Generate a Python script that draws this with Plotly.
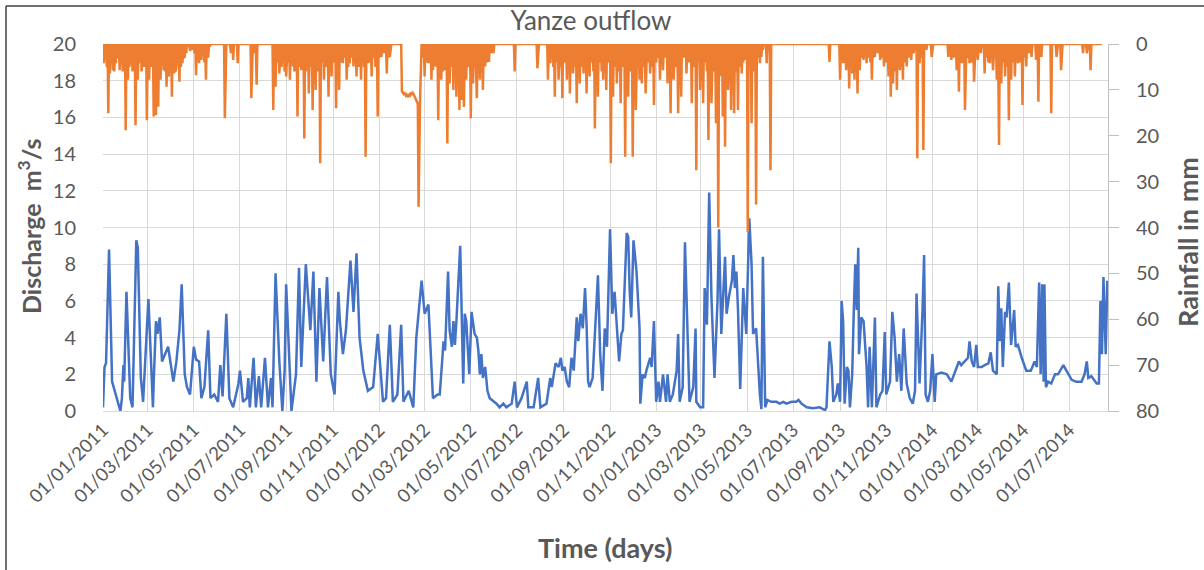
import pandas as pd
import plotly.graph_objects as go

start = pd.Timestamp("2011-01-01")

# Discharge (m3/s): day offset from 01/01/2011 and value
discharge_day = [0,2,4,8,12,17,23,25,27,28,31,36,39,44,46,50,53,60,66,67,70,72,75,78,82,86,89,93,97,101,104,108,111,115,120,123,127,130,134,139,142,147,152,155,158,163,167,172,179,181,185,190,192,194,199,202,206,209,214,218,222,224,228,233,237,240,242,249,255,259,262,268,274,278,282,286,291,296,301,306,311,313,317,321,327,331,335,339,344,350,357,363,370,374,379,383,389,394,397,404,410,414,421,425,430,436,442,
                 445,450,452,456,458,461,463,465,467,472,475,476,478,480,484,487,491,494,496,498,500,502,505,508,511,520,524,529,533,540,544,547,553,560,562,569,575,578,586,591,593,598,602,605,607,610,613,616,619,622,626,628,631,634,637,639,641,643,647,650,654,657,660,663,666,670,673,676,679,682,685,687,692,694,696,698,701,705,709,710,713,716,718,723,725,728,731,734,736,740,744,746,749,753,758,760,762,766,769,772,775,780,783,784,789,793,795,798,801,804,808,812,814,817,822,824,827,831,833,835,837,839,842,846,850,854,857,859,863,868,
                 870,872,875,878,883,890,894,899,903,910,916,919,923,930,938,947,954,956,960,963,965,969,971,974,976,978,980,983,985,987,990,992,994,996,998,999,1002,1005,1009,1011,1013,1016,1020,1022,1027,1030,1033,1035,1040,1043,1046,1049,1052,1055,1058,1062,1066,1070,1073,1075,1077,1079,1083,1085,1087,1090,1093,1096,1099,1101,1108,1115,1121,1128,1131,1134,1139,1143,1145,1148,1151,1154,1156,1161,1165,1170,1173,1176,1181,1183,1185,1187,1189,1192,1194,1197,1200,1204,1206,1209,1214,1220,1226,1231,1234,1237,1239,1241,1243,1244,1246,1249,1253,1258,1262,1269,1273,1280,1286,1293,1297,1300,1302,1306,1313,1316,1318,1320,1322,1325,1327]
discharge_m3s = [0.2,2.4,2.6,8.8,1.6,0.9,0.0,0.7,2.5,1.6,6.5,0.7,0.2,9.3,8.9,1.8,0.5,6.1,0.2,1.6,4.9,4.2,5.1,2.7,3.1,3.5,2.7,1.6,2.7,4.4,6.9,2.0,1.3,0.9,3.5,2.8,2.7,0.7,1.3,4.4,0.7,0.9,0.5,2.5,0.8,5.3,0.7,0.2,1.5,2.2,0.5,0.7,1.8,0.2,2.9,0.2,1.9,0.2,2.9,0.2,1.8,0.2,7.5,2.7,0.0,2.2,6.9,0.0,2.0,7.8,2.4,8.0,4.4,7.6,1.6,6.7,2.7,7.3,2.0,0.9,6.5,4.9,3.1,4.4,8.2,5.4,8.6,4.0,2.2,1.1,1.3,4.2,0.5,0.7,4.7,0.5,0.9,4.7,0.5,1.1,0.2,4.0,7.1,5.3,5.8,0.7,0.9,
                 0.9,3.8,3.3,7.6,4.4,3.5,4.9,3.6,4.9,9.0,1.6,1.5,5.3,4.9,2.0,5.4,4.2,4.0,3.3,2.0,3.1,1.8,2.4,1.1,0.7,0.4,0.2,0.4,0.2,0.4,1.6,0.2,0.7,1.6,0.2,0.2,1.8,0.2,0.4,1.8,1.3,2.6,2.4,2.9,2.2,2.4,1.6,1.3,2.9,2.2,5.1,3.8,5.3,4.5,6.7,4.7,1.6,1.3,1.8,4.2,7.4,3.1,1.1,4.5,3.5,9.9,5.3,6.5,4.5,2.7,4.2,4.4,9.7,9.5,6.5,5.1,9.3,7.6,4.5,0.4,2.0,1.8,2.2,2.9,2.4,4.9,0.5,1.6,0.5,2.0,0.5,2.0,0.5,0.9,2.2,4.2,0.5,1.3,9.2,4.2,0.5,1.3,4.5,0.5,0.2,0.2,6.7,4.7,11.9,6.2,1.8,6.0,9.9,4.2,8.4,5.3,6.2,7.1,8.5,6.7,7.6,5.6,1.2,6.7,4.2,10.5,8.0,4.2,4.5,0.9,
                 0.1,8.4,0.2,0.6,0.5,0.5,0.4,0.5,0.4,0.5,0.5,0.6,0.4,0.2,0.15,0.2,0.05,0.2,3.8,2.4,0.5,0.9,1.5,0.5,6.0,4.9,0.4,2.4,2.2,0.2,2.0,5.3,8.0,5.5,8.9,3.1,5.1,4.9,2.4,0.2,3.5,0.2,5.1,0.2,0.9,1.1,4.3,0.9,1.6,5.4,4.0,1.6,3.1,1.1,4.5,1.5,0.7,0.4,1.1,6.4,4.2,1.5,5.6,8.5,0.9,0.5,1.1,3.1,0.5,2.0,2.1,2.0,1.6,2.4,2.7,2.5,2.7,2.9,3.8,2.7,2.4,3.6,2.4,2.4,2.5,2.6,3.2,2.2,2.0,6.8,3.8,5.6,2.4,5.4,5.1,7.0,3.6,5.5,3.5,3.6,2.9,2.2,2.2,2.7,2.4,7.0,2.0,6.9,1.6,6.9,1.3,1.6,1.5,2.0,2.0,2.5,2.2,1.7,1.6,1.6,2.0,2.7,1.8,1.9,1.5,1.5,6.0,3.1,7.3,3.1,7.1]

# Rainfall (mm): rainy days (day offset from 01/01/2011) and amount; other days are dry
rain_day = [1,3,5,7,9,11,13,15,17,19,20,22,24,26,28,30,32,33,35,37,39,41,43,45,46,48,49,51,52,54,56,58,60,61,63,65,67,69,70,72,73,75,76,78,80,82,84,86,87,89,91,93,94,96,97,99,101,103,105,107,108,110,112,115,119,121,123,125,127,130,132,134,136,139,141,
            161,169,172,178,196,200,203,
            225,228,230,233,236,238,240,242,245,247,249,251,253,255,257,259,262,264,266,268,270,272,274,277,279,281,283,287,289,292,294,296,298,300,302,304,306,308,310,312,314,317,319,322,324,326,328,331,333,335,338,341,343,345,347,350,352,355,358,360,363,365,368,371,375,377,379,
            395,396,397,398,399,400,401,402,403,404,405,406,407,408,409,410,411,412,413,414,415,416,417,418,419,420,
            423,425,427,430,432,434,436,439,441,443,445,447,449,450,452,455,457,458,460,461,463,465,467,469,471,473,474,476,477,479,480,482,484,486,488,489,491,493,494,496,498,500,502,504,505,507,510,513,516,
            544,574,
            588,591,593,595,597,600,602,605,607,610,613,615,617,619,621,624,626,628,630,632,635,637,639,641,643,646,648,650,652,654,657,659,661,663,665,668,671,674,677,679,681,684,687,690,692,694,697,700,702,704,707,709,712,714,717,720,723,726,728,731,733,736,738,740,743,746,748,750,752,754,757,760,762,764,767,771,774,778,781,784,786,789,791,793,796,798,800,802,804,807,810,813,815,817,819,822,824,826,828,830,832,834,837,839,841,844,846,848,850,852,855,857,860,863,865,868,870,872,877,882,
            960,974,976,978,980,982,984,986,988,990,993,995,997,1000,1002,1005,1007,1009,1012,1014,1016,1018,1020,1024,1027,1030,1032,1035,1038,1041,1043,1044,1046,1049,1051,1053,1055,1057,1059,1062,1065,1068,1071,1076,1079,1082,1084,1088,1095,
            1117,1121,1124,1128,1131,1133,1135,1139,1142,1145,1148,1151,1154,1156,1160,1165,1168,1170,1172,1176,1179,1181,1183,1184,1187,1189,1192,1194,1197,1200,1202,1205,1207,1209,1212,1215,1218,1220,1224,1227,1233,1236,1240,
            1253,1260,1266,1295,1300,1305]
rain_mm = [4.2,3,5,15.1,6.4,3.5,5.7,6,4.2,3,2.8,5.7,4,6,3,18.8,4,7.8,5,4.2,6,3,17.7,5,7.8,3,4.2,6,2.8,5,3,16.6,4,7.8,5,3,15.8,6,15.5,4,13.7,5,7.8,3,5.7,6,9.3,4,7.1,5,11.5,3,6.4,6,4.9,4,8.2,5,4.2,3,2.8,2,0.6,1.5,1.3,2,6.8,3,4.2,3.5,2,4,7.8,3,0.6,
           16.2,2,3.5,4.2,11.8,2,8.9,
           14.4,9.3,4,6.4,5,3,6,7.1,4,7.8,3,4.9,6,4,15.8,5,5.7,3,20.6,6,4,10.8,5,14.4,3,10.0,6,26.0,4,7.8,5,3,11.5,5,7.1,4,3,14.0,5,10.0,4,4.2,3,7.8,5,4.2,3,4.9,4,7.1,5,7.8,3,5,24.6,4.2,4,7.1,3,5,15.8,3,2.8,2,6.4,3,2.8,
           10.3,10.6,10.8,10.5,10.9,11.2,11.0,11.4,11.6,11.3,11.0,11.2,10.8,10.9,10.6,10.8,11.2,11.5,11.8,12.2,12.6,13.0,35.5,12.5,11.8,6.0,
           3,7.1,4,4.2,3,7.8,5.7,4.9,5,16.6,4,7.8,6,3,5.7,21.7,4,8.6,5,3,10.0,6,11.5,5,14.4,4,12.2,6,13.7,4,7.8,5,3,16.2,5,8.6,4,6,11.8,4,7.8,5,10.0,3,4.9,4,3.9,2,2.0,
           6.0,5.3,
           7.8,4.2,3,5,11.5,4,7.8,5,11.8,4,7.8,5,10.8,4,6.4,5,12.9,4,8.6,5,6.4,4,10.8,5,7.1,4,6,18.4,5,11.5,4,6,7.8,5,10.0,4,26.0,11.5,5,8.6,6,12.9,5,24.6,4,11.5,6,24.6,5,14.4,4,7.8,8.6,5,10.8,4,6.4,5,13.3,4,3,7.8,4,5.7,3,8.6,5,15.1,4,7.8,5,15.1,4,11.5,3,6.4,4,12.9,5,27.5,4,10.0,5,12.9,4,6,20.9,5,12.9,6,17.3,40,7,5,15.8,22.4,6,10.0,7,14.4,5,15.1,6,14.4,5,6.4,4,3.5,3,41,5,17.3,6,35,3,4.2,2.8,1.3,4.2,27.5,
           3.9,7.8,3,4.2,4,5.7,3,9.7,5,6.4,7.8,4,10.8,5.7,3,3.5,2,4.2,3,4,7.8,3,2.8,2,3.5,3,4.9,4,7.1,11.5,5,8.6,6,10.0,4,5.7,5,7.8,4,4.9,3,3.5,2,24.9,4.2,3,23.1,1.3,2.8,
           2.8,3.5,3,5.7,10.4,4,4.2,14.4,3,4.2,4,8.2,3,3.5,2,6.4,3,4,4.2,5.7,3,7.8,5,22.0,8.6,4,7.1,5,16.6,7.8,4,7.1,3,4.2,4,13.3,3,4.9,2,2.8,3.5,12.6,2.8,
           15.1,2.8,5.7,2.0,2.0,5.7]
rain_last_day = 1320

x_tick_labels = ["01/01/2011", "01/03/2011", "01/05/2011", "01/07/2011", "01/09/2011", "01/11/2011",
                 "01/01/2012", "01/03/2012", "01/05/2012", "01/07/2012", "01/09/2012", "01/11/2012",
                 "01/01/2013", "01/03/2013", "01/05/2013", "01/07/2013", "01/09/2013", "01/11/2013",
                 "01/01/2014", "01/03/2014", "01/05/2014", "01/07/2014"]

# ---- build series ----
q_dates = start + pd.to_timedelta(discharge_day, unit="D")
rain_daily = {d: 0.0 for d in range(rain_last_day + 1)}
for d, v in zip(rain_day, rain_mm):
    rain_daily[d] = v
r_days = sorted(rain_daily)
r_dates = start + pd.to_timedelta(r_days, unit="D")
r_vals = [rain_daily[d] for d in r_days]
tick_vals = [pd.to_datetime(t, format="%d/%m/%Y") for t in x_tick_labels]

FONT = "Lato"
GREY = "#595959"
GRID = "#D9D9D9"

fig = go.Figure()
fig.add_trace(go.Scatter(x=q_dates, y=discharge_m3s, mode="lines", name="Discharge",
                         line=dict(color="#4472C4", width=2.5), yaxis="y"))
fig.add_trace(go.Scatter(x=r_dates, y=r_vals, mode="lines", name="Rainfall",
                         line=dict(color="#ED7D31", width=2.5), yaxis="y2"))

fig.update_layout(
    width=1204, height=570,
    margin=dict(l=103, r=96, t=44, b=159),
    paper_bgcolor="white", plot_bgcolor="white",
    showlegend=False,
    font=dict(family=FONT, color=GREY, size=19),
    title=dict(text="Yanze outflow", x=591/1204, xanchor="center", y=1-21/570, yanchor="middle",
               font=dict(family=FONT, size=26, color=GREY)),
    xaxis=dict(type="date", range=["2011-01-01", "2014-08-21"],
               tickvals=tick_vals, ticktext=x_tick_labels, tickangle=-45,
               showgrid=True, gridcolor=GRID, gridwidth=1,
               showline=True, linecolor=GRID, linewidth=1, ticks="",
               tickfont=dict(size=18.5, color=GREY), automargin=False, zeroline=False),
    yaxis=dict(range=[0, 20], dtick=2, showgrid=True, gridcolor=GRID, gridwidth=1,
               zeroline=False, showline=False, ticks="", ticklabelstandoff=26,
               tickfont=dict(size=20, color=GREY), automargin=False),
    yaxis2=dict(range=[80, 0], dtick=10, overlaying="y", side="right", showgrid=False,
                zeroline=False, showline=True, linecolor="#BFBFBF", linewidth=1,
                ticks="outside", ticklen=10, tickcolor="#BFBFBF", ticklabelstandoff=13,
                tickfont=dict(size=20, color=GREY), automargin=False),
)

fig.add_annotation(text="<b>Discharge\u00a0\u00a0m<sup>3</sup>/s</b>", xref="paper", yref="paper",
                   x=(29 - 103) / 1005, y=(411 - 227) / 367, textangle=-90, showarrow=False,
                   font=dict(family=FONT, size=25, color=GREY), xanchor="center", yanchor="middle")
fig.add_annotation(text="<b>Rainfall in mm</b>", xref="paper", yref="paper",
                   x=(1187 - 103) / 1005, y=(411 - 242) / 367, textangle=-90, showarrow=False,
                   font=dict(family=FONT, size=27, color=GREY), xanchor="center", yanchor="middle")
fig.add_annotation(text="<b>Time (days)</b>", xref="paper", yref="paper",
                   x=(605 - 103) / 1005, y=(411 - 547) / 367, showarrow=False,
                   font=dict(family=FONT, size=27, color=GREY), xanchor="center", yanchor="middle")

# outer frame lines (left and top)
fig.add_shape(type="line", xref="paper", yref="paper",
              x0=(6 - 103) / 1005, x1=(6 - 103) / 1005, y0=(411 - 575) / 367, y1=(411 - 6) / 367,
              line=dict(color="#404040", width=1.5))
fig.add_shape(type="line", xref="paper", yref="paper",
              x0=(6 - 103) / 1005, x1=(1210 - 103) / 1005, y0=(411 - 6) / 367, y1=(411 - 6) / 367,
              line=dict(color="#404040", width=1.5))

fig.write_html("out.html")
